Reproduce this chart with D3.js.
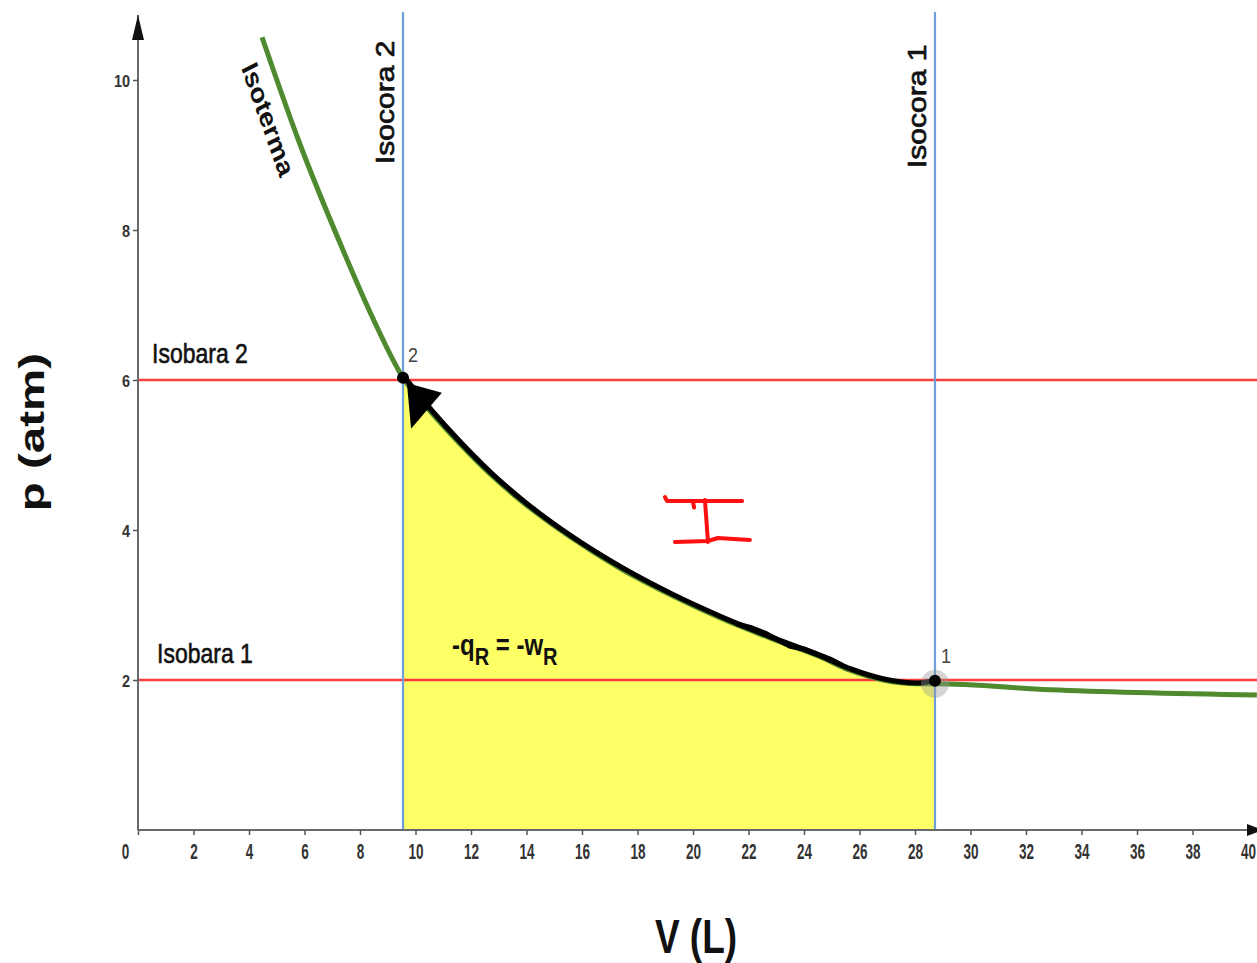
<!DOCTYPE html>
<html><head><meta charset="utf-8">
<script src="https://cdn.jsdelivr.net/npm/d3@7"></script>
<style>
body{margin:0;background:#fff}
svg{display:block}
text{font-family:"Liberation Sans",Arial,Helvetica,sans-serif}
</style>
</head><body>
<svg id="chart" width="1257" height="963"></svg>
<script>
// ---------- data ----------
const xTicks = [0,2,4,6,8,10,12,14,16,18,20,22,24,26,28,30,32,34,36,38,40];
const yTicks = [2,4,6,8,10];
const isobaraNames = ["Isobara 2","Isobara 1"];
const isobaraP = [6,2];
const isocoraNames = ["Isocora 2","Isocora 1"];
const isocoraV = [9.55,28.72];
// isotherm (green)
const isotermaV = [4.47,5.78,7.39,8.43,9.55,10.59,11.60,12.68,13.77,15.57,17.37,19.17,20.97,22.77,24.58,25.66,26.85,28.07,28.72,32.86,40.32];
const isotermaP = [10.57,9.20,7.73,6.85,6.03,5.56,5.15,4.75,4.40,3.91,3.49,3.14,2.83,2.56,2.31,2.13,2.00,1.95,1.95,1.87,1.80];
// reversible path 1 -> 2 (black)
const pathV = [9.55,10.59,11.60,12.68,13.77,15.57,17.37,19.17,20.97,22.77,24.58,25.66,26.85,28.07,28.72];
const pathP = [6.03,5.563,5.152,4.752,4.40,3.907,3.493,3.14,2.833,2.56,2.307,2.133,2.00,1.947,1.987];
// hand-drawn scribble on the path
const scribbleV = [21.59,22.13,22.59,23.06,23.50,24.04,24.50,24.94,25.35];
const scribbleP = [2.747,2.693,2.627,2.533,2.45,2.41,2.343,2.28,2.20];
// arrow head (tip, base1, base2)
const arrowV = [9.69,10.95,9.84];
const arrowP = [5.96,5.83,5.35];
// states
const stateNames = ["2","1"];
const stateV = [9.55,28.72];
const stateP = [6.03,1.99];
// red hand-written mark
const markStrokes = [
  [[18.99,4.44],[19.06,4.387],[21.77,4.387]],
  [[20.0,4.373],[20.04,4.30]],
  [[20.43,4.40],[20.54,3.84]],
  [[19.35,3.84],[20.54,3.853],[20.90,3.893],[22.05,3.867]]
];

// ---------- layout ----------
const W = 1257, H = 963;
const svg = d3.select("#chart");
const x = d3.scaleLinear().domain([0,40]).range([138,1248]);
const y = d3.scaleLinear().domain([0,10]).range([830,80]);
const F = "'Liberation Sans',Arial,sans-serif";

const iso = isotermaV.map((v,i)=>[v,isotermaP[i]]);
const rev = pathV.map((v,i)=>[v,pathP[i]]);

// yellow area
svg.append("path")
  .datum(rev)
  .attr("d", d3.area().x(d=>x(d[0])).y0(y(0)).y1(d=>y(d[1])).curve(d3.curveMonotoneX))
  .attr("fill","#ffff66");

// isobars
isobaraP.forEach((p,i)=>{
  svg.append("line").attr("x1",x(0)).attr("x2",W).attr("y1",y(p)).attr("y2",y(p))
    .attr("stroke","#ff3c3c").attr("stroke-width",2.6);
});
// isochores
isocoraV.forEach((v,i)=>{
  svg.append("line").attr("x1",x(v)).attr("x2",x(v)).attr("y1",12).attr("y2",y(0))
    .attr("stroke","#6f9fdb").attr("stroke-width",2.2);
});

// axes
const ax = svg.append("g").attr("transform",`translate(0,${y(0)})`)
  .call(d3.axisBottom(x).tickValues(xTicks).tickSize(5).tickSizeOuter(0).tickFormat(d3.format("d")));
ax.select(".domain").attr("stroke","#6a6a6a").attr("stroke-width",2).attr("d",`M${x(0)},0H${W}`);
ax.selectAll(".tick line").attr("stroke","#555").attr("stroke-width",1.5);
ax.selectAll(".tick text")
  .attr("y",null).attr("dy",null)
  .attr("transform",d=>`translate(${d===0?-13:0},29) scale(1,1.6)`)
  .attr("fill","#333").attr("font-weight","bold").attr("font-size",13.5).attr("font-family",F);

const ay = svg.append("g").attr("transform",`translate(${x(0)},0)`)
  .call(d3.axisLeft(y).tickValues(yTicks).tickSize(5).tickSizeOuter(0).tickFormat(d3.format("d")));
ay.select(".domain").attr("stroke","#6a6a6a").attr("stroke-width",2).attr("d",`M0,${y(0)}V15`);
ay.selectAll(".tick line").attr("stroke","#555").attr("stroke-width",1.5);
ay.selectAll(".tick text")
  .attr("x",null).attr("dy",null)
  .attr("transform","translate(-8,6) scale(1,1.15)")
  .attr("fill","#333").attr("font-weight","bold").attr("font-size",14.5).attr("font-family",F);

// axis arrows
svg.append("path").attr("d",`M${x(0)},15L${x(0)-6},40L${x(0)+6},40Z`).attr("fill","#111");
svg.append("path").attr("d",`M1263,${y(0)}L1247,${y(0)-6}L1247,${y(0)+6}Z`).attr("fill","#111");

// isotherm
svg.append("path").datum(iso)
  .attr("d", d3.line().x(d=>x(d[0])).y(d=>y(d[1])).curve(d3.curveMonotoneX))
  .attr("fill","none").attr("stroke","#4f8a2f").attr("stroke-width",5);

// reversible path
svg.append("path").datum(rev)
  .attr("d", d3.line().x(d=>x(d[0])).y(d=>y(d[1])).curve(d3.curveMonotoneX))
  .attr("transform","translate(1,-1)")
  .attr("fill","none").attr("stroke","#000").attr("stroke-width",5.2).attr("stroke-linecap","round");
svg.append("path").datum(scribbleV.map((v,i)=>[v,scribbleP[i]]))
  .attr("d", d3.line().x(d=>x(d[0])).y(d=>y(d[1])))
  .attr("fill","none").attr("stroke","#000").attr("stroke-width",5).attr("stroke-linejoin","round").attr("stroke-linecap","round");

// arrow head
svg.append("path")
  .attr("d", d3.line()(arrowV.map((v,i)=>[x(v),y(arrowP[i])]))+"Z")
  .attr("fill","#000");

// states
svg.append("circle").attr("cx",x(stateV[1])).attr("cy",y(stateP[1])+3).attr("r",14).attr("fill","rgba(150,150,150,0.4)");
svg.append("circle").attr("cx",x(stateV[1])).attr("cy",y(stateP[1])).attr("r",6).attr("fill","#000");
svg.append("circle").attr("cx",x(stateV[0])).attr("cy",y(stateP[0])).attr("r",6).attr("fill","#000");
const stateDx=[5,6], stateDy=[-16,-18];
stateNames.forEach((n,i)=>{
  svg.append("text").text(n)
    .attr("transform",`translate(${x(stateV[i])+stateDx[i]},${y(stateP[i])+stateDy[i]}) scale(1,1.15)`)
    .attr("font-size",18).attr("fill","#444");
});

// isobar labels
const isobaraLX=[152,157];
isobaraNames.forEach((n,i)=>{
  svg.append("text").text(n)
    .attr("transform",`translate(${isobaraLX[i]},${y(isobaraP[i])-17}) scale(1,1.2)`)
    .attr("font-size",23).attr("fill","#111").attr("stroke","#111").attr("stroke-width",0.5);
});
// isochore labels
const isocoraLY=[164,168];
isocoraNames.forEach((n,i)=>{
  svg.append("text").text(n)
    .attr("transform",`translate(${x(isocoraV[i])-9},${isocoraLY[i]}) scale(1,1.2) rotate(-90)`)
    .attr("font-size",25).attr("fill","#111").attr("stroke","#111").attr("stroke-width",0.7);
});
// isotherm label
svg.append("text").text("Isoterma")
  .attr("transform","translate(241,68) scale(1,1.2) rotate(67)")
  .attr("font-size",24).attr("font-weight","bold").attr("fill","#111");

// q_R = w_R label
const qt = svg.append("text").attr("transform","translate(452,655) scale(1,1.2)")
  .attr("font-size",24).attr("font-weight","bold").attr("fill","#111");
qt.append("tspan").text("-q");
qt.append("tspan").text("R").attr("font-size",20).attr("dy",8);
qt.append("tspan").text(" = -w").attr("dy",-8);
qt.append("tspan").text("R").attr("font-size",20).attr("dy",8);

// red mark
markStrokes.forEach(s=>{
  svg.append("path").attr("d", d3.line()(s.map(d=>[x(d[0]),y(d[1])])))
    .attr("fill","none").attr("stroke","#ff1010").attr("stroke-width",4)
    .attr("stroke-linecap","round").attr("stroke-linejoin","round");
});

// axis titles
svg.append("text").text("p (atm)")
  .attr("transform","translate(44,432) scale(1,1.32) rotate(-90)")
  .attr("text-anchor","middle").attr("font-size",36).attr("font-weight","bold").attr("fill","#111");
svg.append("text").text("V (L)")
  .attr("transform","translate(696,953) scale(1,1.32)")
  .attr("text-anchor","middle").attr("font-size",37).attr("font-weight","bold").attr("fill","#111");
</script>
</body></html>
